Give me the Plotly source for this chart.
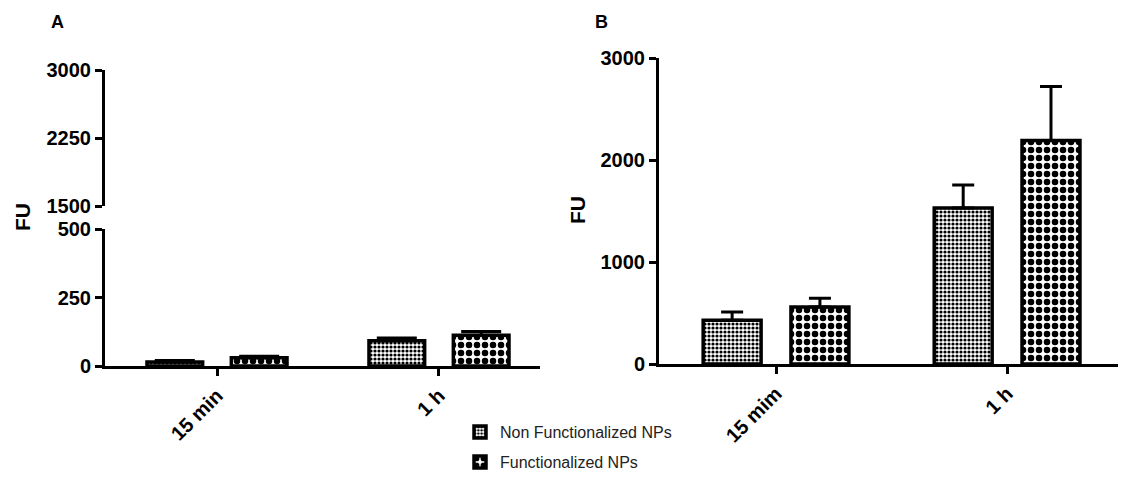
import plotly.graph_objects as go

# ---- data ----
series_names = ["Non Functionalized NPs", "Functionalized NPs"]
cats_a = ["15 min", "1 h"]
cats_b = ["15 mim", "1 h"]

a_non = [15, 92]
a_non_err = [5, 10]
a_fun = [30, 112]
a_fun_err = [6, 14]

b_non = [430, 1530]
b_non_err = [80, 225]
b_fun = [560, 2190]
b_fun_err = [85, 530]

ticks_a_low = [0, 250, 500]
ticks_a_high = [1500, 2250, 3000]
ticks_b = [0, 1000, 2000, 3000]

W, H = 1121, 477
FONT = "Liberation Sans, Arial, sans-serif"

pat_non = dict(shape=".", size=4, solidity=0.5, fgcolor="black", bgcolor="white", fillmode="replace")
pat_fun = dict(shape=".", size=8, solidity=0.52, fgcolor="black", bgcolor="white", fillmode="replace")

fig = go.Figure()

def add_bars(cats, vals, errs, name, pat, xa, ya, show, capw, leg):
    fig.add_trace(go.Bar(
        x=cats, y=vals, name=name, xaxis=xa, yaxis=ya,
        legendgroup=name, showlegend=show, legend=leg,
        marker=dict(color="white", pattern=pat, line=dict(color="black", width=3.5)),
        error_y=dict(type="data", array=errs, arrayminus=[0] * len(errs), symmetric=False,
                     color="black", thickness=3, width=capw),
    ))

add_bars(cats_a, a_non, a_non_err, series_names[0], pat_non, "x", "y", True, 20, "legend")
add_bars(cats_a, a_fun, a_fun_err, series_names[1], pat_fun, "x", "y", True, 20, "legend2")
add_bars(cats_b, b_non, b_non_err, series_names[0], pat_non, "x2", "y2", False, 11, "legend")
add_bars(cats_b, b_fun, b_fun_err, series_names[1], pat_fun, "x2", "y2", False, 11, "legend2")
# empty trace so the upper (broken) axis segment of panel A exists
fig.add_trace(go.Scatter(x=[], y=[], xaxis="x", yaxis="y3", showlegend=False, hoverinfo="skip"))

tickfont = dict(family=FONT, size=20, color="black", weight="bold")
axcommon = dict(showline=True, linecolor="black", linewidth=3, ticks="outside",
                ticklen=7, tickwidth=2.5, tickcolor="black", showgrid=False,
                zeroline=False, tickfont=tickfont, automargin=False)

def py(px):
    return 1 - px / H

def pxx(px):
    return px / W

legfont = dict(family=FONT, size=16, color="#222")
legcommon = dict(xanchor="left", yanchor="middle", font=legfont,
                 bgcolor="rgba(0,0,0,0)", borderwidth=0)

fig.update_layout(
    width=W, height=H,
    margin=dict(l=0, r=0, t=0, b=0, pad=0, autoexpand=False),
    paper_bgcolor="white", plot_bgcolor="white",
    barmode="group", bargap=0.24, bargroupgap=0.34,
    showlegend=True,
    legend=dict(x=pxx(460), y=py(432), **legcommon),
    legend2=dict(x=pxx(460), y=py(462), **legcommon),
    xaxis=dict(domain=[pxx(105), pxx(540)], anchor="y", type="category",
               range=[-0.5045, 1.455], tickangle=-45, **axcommon),
    yaxis=dict(domain=[py(366), py(229)], anchor="x", range=[0, 500],
               tickvals=ticks_a_low, **axcommon),
    yaxis3=dict(domain=[py(206), py(70)], anchor="x", range=[1500, 3000],
                tickvals=ticks_a_high, **axcommon),
    xaxis2=dict(domain=[pxx(659), pxx(1118)], anchor="y2", type="category",
                range=[-0.5065, 1.48], tickangle=-45, **axcommon),
    yaxis2=dict(domain=[py(364), py(58)], anchor="x2", range=[0, 3000],
                tickvals=ticks_b, **axcommon),
    annotations=[
        dict(text="A", x=pxx(57), y=py(22), xref="paper", yref="paper", showarrow=False,
             xanchor="center", yanchor="middle",
             font=dict(family=FONT, size=18, color="black", weight="bold")),
        dict(text="B", x=pxx(601), y=py(22), xref="paper", yref="paper", showarrow=False,
             xanchor="center", yanchor="middle",
             font=dict(family=FONT, size=18, color="black", weight="bold")),
        dict(text="FU", x=pxx(22), y=py(217), xref="paper", yref="paper", showarrow=False,
             xanchor="center", yanchor="middle", textangle=-90,
             font=dict(family=FONT, size=21, color="black", weight="bold")),
        dict(text="FU", x=pxx(577), y=py(210), xref="paper", yref="paper", showarrow=False,
             xanchor="center", yanchor="middle", textangle=-90,
             font=dict(family=FONT, size=21, color="black", weight="bold")),
    ],
)

fig.write_html("out.html")
